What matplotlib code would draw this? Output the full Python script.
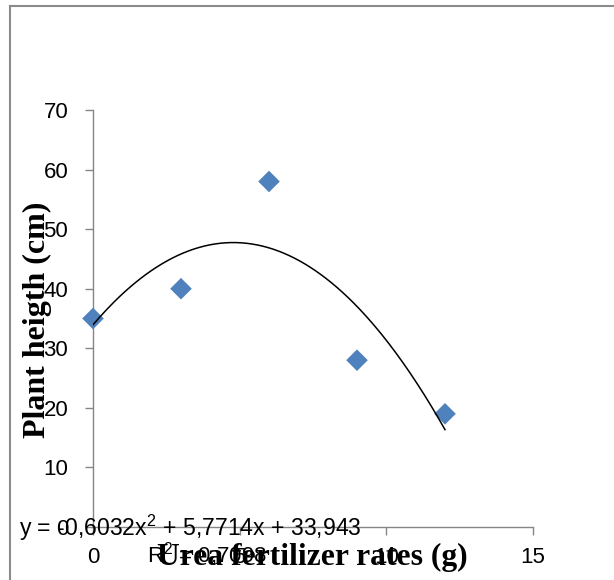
import numpy as np
import matplotlib
matplotlib.use("Agg")
from matplotlib import pyplot as plt
from matplotlib.lines import Line2D

# data
urea_rates = [0, 3, 6, 9, 12]
plant_height = [35, 40, 58, 28, 19]
x_ticks = [0, 5, 10, 15]
y_ticks = [0, 10, 20, 30, 40, 50, 60, 70]

plt.rcParams["mathtext.fontset"] = "custom"
plt.rcParams["mathtext.rm"] = "Liberation Sans"
plt.rcParams["mathtext.it"] = "Liberation Sans:italic"

W, H = 614, 580
fig = plt.figure(figsize=(W / 100, H / 100), dpi=100)
fig.patch.set_facecolor("white")

# axes box in pixel terms: x 93..533, y 110..527
ax = fig.add_axes([93 / W, (H - 527) / H, (533 - 93) / W, (527 - 110) / H])
ax.set_xlim(0, 15)
ax.set_ylim(0, 70)

grey = "#868686"
for s in ["top", "right"]:
    ax.spines[s].set_visible(False)
for s in ["left", "bottom"]:
    ax.spines[s].set_color(grey)
    ax.spines[s].set_linewidth(1.0)

ax.set_xticks(x_ticks)
ax.set_yticks(y_ticks)
ax.tick_params(axis="both", direction="out", length=5.8, width=1.0, color=grey,
               labelsize=16, labelcolor="black")
ax.tick_params(axis="y", pad=12)
ax.tick_params(axis="x", pad=8.3)
for lab in ax.get_xticklabels() + ax.get_yticklabels():
    lab.set_family("Liberation Sans")

ax.scatter(urea_rates, plant_height, marker="D", s=11 ** 2, color="#4F81BD",
           edgecolor="none", zorder=3, clip_on=False)

# 2nd order polynomial trendline (Excel style)
coef = np.polyfit(urea_rates, plant_height, 2)
xs = np.linspace(min(urea_rates), max(urea_rates), 200)
ax.plot(xs, np.polyval(coef, xs), color="black", lw=1.1, zorder=4)

fitted = np.polyval(coef, urea_rates)
ss_res = np.sum((np.array(plant_height) - fitted) ** 2)
ss_tot = np.sum((np.array(plant_height) - np.mean(plant_height)) ** 2)
r2 = 1 - ss_res / ss_tot

def dec(v, n):
    return f"{v:.{n}f}".replace(".", ",")

eq = (f"y = -{dec(-coef[0], 4)}x" + r"$^{\mathrm{2}}$" +
      f" + {dec(coef[1], 4)}x + {dec(coef[2], 3)}")
ax.text(-2.52, -1.5, eq, fontsize=16.6, family="Liberation Sans",
        ha="left", va="baseline", clip_on=False, zorder=5)
ax.text(1.84, -6.0, "R" + r"$^{\mathrm{2}}$" + f" = {dec(r2, 4)}", fontsize=16,
        family="Liberation Sans", ha="left", va="baseline", clip_on=False, zorder=5)

# axis titles drawn as free text, they overlap the tick labels as in the original
fig.text(312.5 / W, 1 - 557 / H, "Urea fertilizer rates (g)", fontsize=22.8,
         family="Liberation Serif", fontweight="bold", ha="center", va="center")
fig.text(37 / W, 1 - 320 / H, "Plant heigth (cm)", fontsize=23,
         family="Liberation Serif", fontweight="bold", rotation=90,
         ha="center", va="center")

# chart area border (only top and left are inside the crop)
fig.add_artist(Line2D([10 / W, 10 / W], [0, 1 - 6 / H], transform=fig.transFigure,
                      color="#8c8c8c", lw=1.5))
fig.add_artist(Line2D([10 / W, 1], [1 - 6 / H, 1 - 6 / H], transform=fig.transFigure,
                      color="#8c8c8c", lw=1.5))

fig.savefig("out.png", dpi=100)
